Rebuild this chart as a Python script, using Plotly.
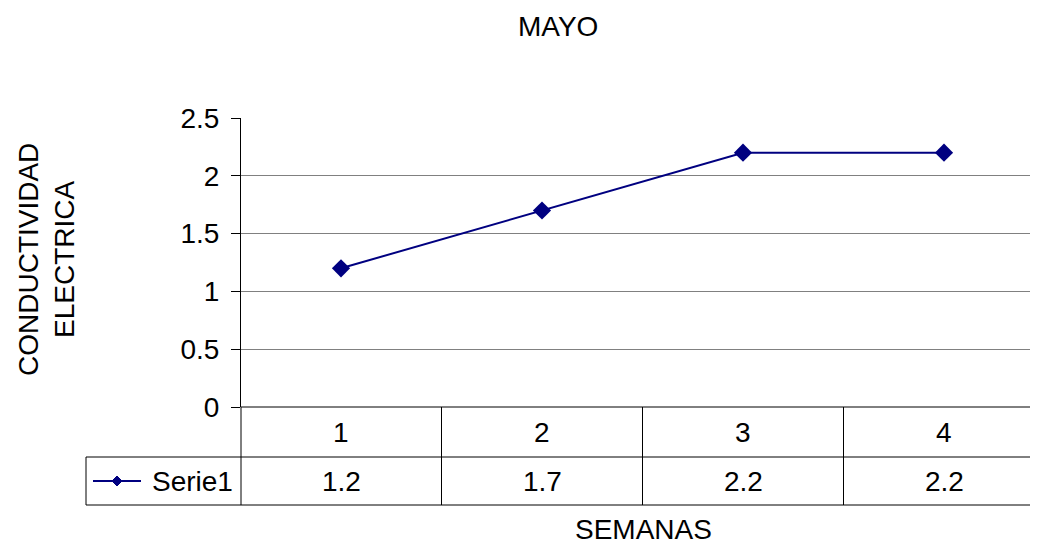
"""MAYO: conductividad electrica por semana, line chart with data table."""

import plotly.graph_objects as go

semanas = [1, 2, 3, 4]
serie1 = [1.2, 1.7, 2.2, 2.2]
serie_name = "Serie1"
y_ticks = [0, 0.5, 1, 1.5, 2, 2.5]
y_tick_labels = ["0", "0.5", "1", "1.5", "2", "2.5"]

FONT = "Liberation Sans, Arial, sans-serif"
NAVY = "#000080"
FS = 28

W, H = 1038, 546
OFF = 8  # page body margin
LEFT, TOP, BOTTOM = 241 - OFF, 118 - OFF, 407 - OFF
plot_w = W - LEFT
plot_h = BOTTOM - TOP
CAT_PX = 201  # pixels per category


def px(pixel_x):
    """Screenshot column -> paper x."""
    return (pixel_x - OFF - LEFT) / plot_w


def py(pixel_y):
    """Screenshot row -> paper y."""
    return (BOTTOM - (pixel_y - OFF)) / plot_h


def label(text, x, y, xref="paper", xanchor="center", **kw):
    return dict(x=x, y=y, xref=xref, yref="paper", text=text, showarrow=False,
                xanchor=xanchor, yanchor="middle", **kw)


fig = go.Figure()
fig.add_trace(
    go.Scatter(
        x=semanas,
        y=serie1,
        name=serie_name,
        mode="lines+markers",
        line=dict(color=NAVY, width=2),
        marker=dict(symbol="diamond", size=14, color=NAVY),
        showlegend=False,
        cliponaxis=False,
    )
)

# data table grid
row1_top, row1_bot, row2_bot = 407, 457, 505
line_style = dict(color="black", width=1)
shapes = [
    dict(type="line", xref="paper", yref="paper", x0=0, x1=1,
         y0=0, y1=0, line=line_style),
    dict(type="line", xref="paper", yref="paper", x0=px(86), x1=1,
         y0=py(row1_bot), y1=py(row1_bot), line=line_style),
    dict(type="line", xref="paper", yref="paper", x0=px(86), x1=1,
         y0=py(row2_bot), y1=py(row2_bot), line=line_style),
    dict(type="line", xref="paper", yref="paper", x0=px(86), x1=px(86),
         y0=py(row1_bot), y1=py(row2_bot), line=line_style),
    dict(type="line", xref="paper", yref="paper", x0=0, x1=0,
         y0=py(row1_top), y1=py(row2_bot), line=line_style),
]
for s in semanas[:-1]:
    shapes.append(dict(type="line", xref="x", yref="paper", x0=s + 0.5, x1=s + 0.5,
                       y0=py(row1_top), y1=py(row2_bot), line=line_style))

# legend key inside the table
key_y = py(481)
shapes.append(dict(type="line", xref="paper", yref="paper", x0=px(93), x1=px(141),
                   y0=key_y, y1=key_y, line=dict(color=NAVY, width=2)))
d = 5
cx, cy = px(117), key_y
dx, dy = d / plot_w, d / plot_h
shapes.append(dict(type="path", xref="paper", yref="paper",
                   path=f"M {cx - dx},{cy} L {cx},{cy + dy} L {cx + dx},{cy} L {cx},{cy - dy} Z",
                   fillcolor=NAVY, line=dict(color=NAVY, width=1)))

annotations = [label(serie_name, px(150), key_y, xanchor="left")]
for s, v in zip(semanas, serie1):
    annotations.append(label(str(s), s, py(432), xref="x"))
    annotations.append(label(str(v), s, py(481), xref="x"))

annotations.append(label("MAYO", px(558), py(26)))
annotations.append(label("SEMANAS", px(643), py(529)))
annotations.append(label("CONDUCTIVIDAD<br>ELECTRICA", px(46), py(260), textangle=-90))

fig.update_layout(
    width=W,
    height=H,
    margin=dict(l=LEFT, r=0, t=TOP, b=H - BOTTOM),
    paper_bgcolor="white",
    plot_bgcolor="white",
    font=dict(family=FONT, size=FS, color="black"),
    shapes=shapes,
    annotations=annotations,
    showlegend=False,
    xaxis=dict(
        range=[1 - 100 / CAT_PX, 1 - 100 / CAT_PX + plot_w / CAT_PX],
        showticklabels=False,
        showgrid=False,
        zeroline=False,
        ticks="",
        fixedrange=True,
    ),
    yaxis=dict(
        range=[0, 2.5],
        tickvals=y_ticks,
        ticktext=y_tick_labels,
        showgrid=True,
        gridcolor="#808080",
        gridwidth=1,
        zeroline=False,
        showline=True,
        linecolor="black",
        linewidth=1,
        ticks="outside",
        ticklen=9,
        tickcolor="black",
        tickfont=dict(size=FS),
        ticklabelstandoff=6,
    ),
)

fig.write_html("out.html")
